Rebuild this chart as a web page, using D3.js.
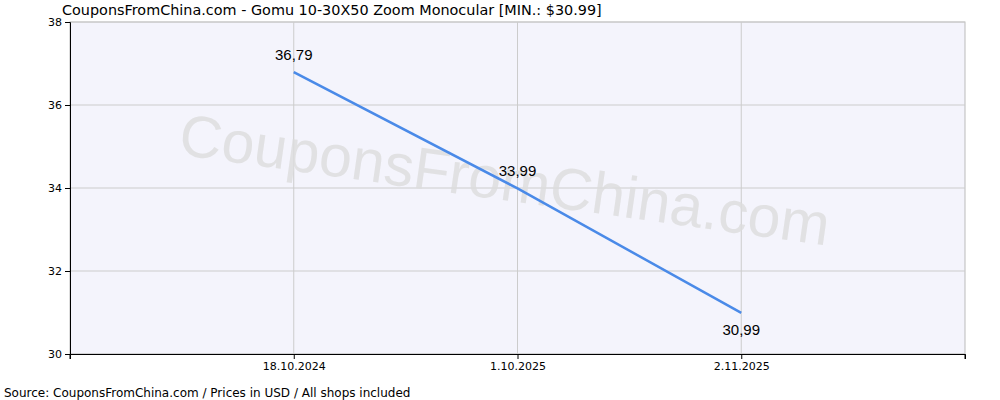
<!DOCTYPE html>
<html><head><meta charset="utf-8">
<script src="https://cdn.jsdelivr.net/npm/d3@7"></script>
<style>body{margin:0;background:#fff}text{font-family:"DejaVu Sans",sans-serif}</style>
</head><body><svg id="c" width="1000" height="400"></svg>
<script>
const categories=["18.10.2024","1.10.2025","2.11.2025"];
const prices=[36.79,33.99,30.99];
const labels=["36,79","33,99","30,99"];
const yTicks=[30,32,34,36,38];
const svg=d3.select("#c");
const L=70,R=965,T=22,B=354;
const x=d3.scalePoint().domain(categories).range([L,R]).padding(1);
const y=d3.scaleLinear().domain([30,38]).range([B,T]);
svg.append("rect").attr("x",L).attr("y",T).attr("width",R-L).attr("height",B-T).attr("fill","#f4f4fc").attr("stroke","#bbb");
svg.append("g").selectAll("line").data(yTicks).join("line").attr("x1",L).attr("x2",R).attr("y1",d=>y(d)).attr("y2",d=>y(d)).attr("stroke","#ccc");
svg.append("g").selectAll("line").data(categories).join("line").attr("x1",d=>x(d)).attr("x2",d=>x(d)).attr("y1",T).attr("y2",B).attr("stroke","#ccc");
svg.append("text").attr("transform","translate(502,200) rotate(8)").attr("text-anchor","middle").attr("font-size",59).style("font-family","Arial, 'Liberation Sans'").attr("fill","#ddd").attr("opacity",0.8).text("CouponsFromChina.com");
const ya=svg.append("g").attr("transform",`translate(${L},0)`).call(d3.axisLeft(y).tickValues(yTicks).tickSize(5).tickFormat(d3.format("d")));
const xa=svg.append("g").attr("transform",`translate(0,${B})`).call(d3.axisBottom(x).tickSize(5));
xa.append("line").attr("x1",L).attr("x2",L).attr("y1",0).attr("y2",5).attr("stroke","#000");
xa.append("line").attr("x1",R).attr("x2",R).attr("y1",0).attr("y2",5).attr("stroke","#000");
[ya,xa].forEach(a=>{a.selectAll("text").attr("font-size",11).attr("fill","#000").style("font-family","DejaVu Sans");a.select(".domain").attr("stroke","#000");});
svg.append("path").datum(prices).attr("fill","none").attr("stroke","#4a8ae8").attr("stroke-width",2.5)
 .attr("d",d3.line().x((d,i)=>x(categories[i])).y(d=>y(d)));
const off=[-12,-12,22];
svg.append("g").selectAll("text").data(prices).join("text").attr("x",(d,i)=>x(categories[i])).attr("y",(d,i)=>y(d)+off[i])
 .attr("text-anchor","middle").attr("font-size",15).style("font-family","Arial, 'Liberation Sans'").attr("fill","#000").text((d,i)=>labels[i]);
svg.append("text").attr("x",62).attr("y",15).attr("font-size",14.4).attr("fill","#000").text("CouponsFromChina.com - Gomu 10-30X50 Zoom Monocular [MIN.: $30.99]");
svg.append("text").attr("x",4).attr("y",397).attr("font-size",12).attr("fill","#000").text("Source: CouponsFromChina.com / Prices in USD / All shops included");
</script></body></html>
